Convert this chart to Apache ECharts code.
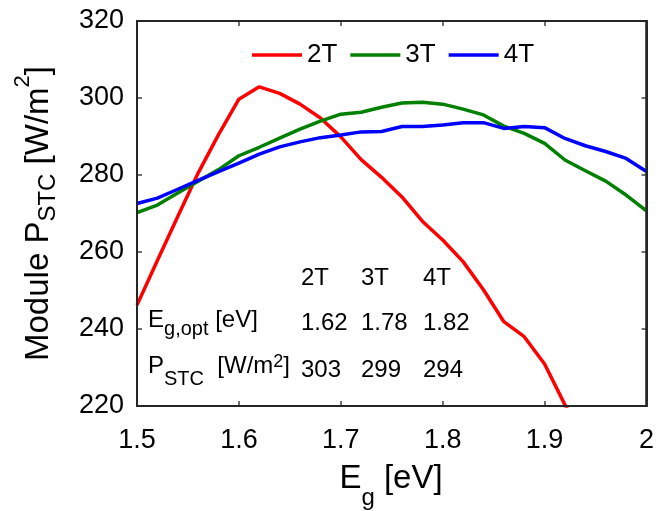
<!DOCTYPE html>
<html>
<head>
<meta charset="utf-8">
<script src="https://cdn.jsdelivr.net/npm/echarts@6/dist/echarts.min.js"></script>
<style>
html,body{margin:0;padding:0;background:#fff;}
#c{width:657px;height:511px;}
</style>
</head>
<body>
<div id="c"></div>
<script>
// ---- data ----
var eg = [1.50,1.52,1.54,1.56,1.58,1.60,1.62,1.64,1.66,1.68,1.70,1.72,1.74,1.76,1.78,1.80,1.82,1.84,1.86,1.88,1.90,1.92,1.94,1.96,1.98,2.00];
var p2T = [246.2,257.8,269.2,280.5,290.5,299.7,302.9,301.2,298.4,294.8,289.9,284.0,279.4,274.3,268.0,263.1,257.5,250.2,241.9,238.0,230.9,220.3,211.0,null,null,null];
var p3T = [270.2,272.2,275.3,278.4,281.4,285.0,287.2,289.6,291.9,294.0,295.8,296.3,297.6,298.7,298.9,298.4,297.1,295.6,292.7,290.8,288.2,283.9,281.1,278.4,274.8,270.7];
var p4T = [272.6,274.0,276.3,278.6,280.9,283.1,285.4,287.3,288.6,289.7,290.4,291.2,291.3,292.6,292.6,293.0,293.6,293.6,292.1,292.6,292.3,289.5,287.6,286.1,284.3,280.9];
var seriesNames = ['2T','3T','4T'];
var seriesColors = ['#ff0000','#008000','#0000ff'];
var xTicks = [1.5,1.6,1.7,1.8,1.9,2.0];
var yTicks = [220,240,260,280,300,320];
var tableHeader = ['2T','3T','4T'];
var tableEgOpt = ['1.62','1.78','1.82'];
var tablePstc = ['303','299','294'];

function pairs(ys){ return eg.map(function(x,i){ return [x, ys[i]]; }); }

var FONT = '"Liberation Sans", Arial, Helvetica, sans-serif';
var frameColor = '#262626';

var chart = echarts.init(document.getElementById('c'), null, {renderer:'canvas'});

function axisBase(extra){
  var o = {
    type:'value', show:true,
    axisLine:{show:true,onZero:false,lineStyle:{color:frameColor,width:2}},
    axisTick:{show:true,inside:true,length:5,lineStyle:{color:'#444',width:1.5}},
    splitLine:{show:false}
  };
  for (var k in extra) o[k] = extra[k];
  return o;
}
var xAxes = [
  axisBase({min:xTicks[0], max:xTicks[xTicks.length-1], interval:0.1, position:'bottom',
    axisLabel:{color:'#000',fontSize:27,fontFamily:FONT,margin:21,
      formatter:function(v){ return String(Number(v.toFixed(1))); }}}),
  axisBase({min:xTicks[0], max:xTicks[xTicks.length-1], interval:0.1, position:'top',
    axisLabel:{show:false}})
];
var yAxes = [
  axisBase({min:yTicks[0], max:yTicks[yTicks.length-1], interval:20, position:'left',
    axisLabel:{color:'#000',fontSize:27,fontFamily:FONT,margin:13}}),
  axisBase({min:yTicks[0], max:yTicks[yTicks.length-1], interval:20, position:'right',
    axisLabel:{show:false}})
];

var dataSets = [p2T,p3T,p4T];
var series = dataSets.map(function(d,i){
  return {
    name:seriesNames[i], type:'line', xAxisIndex:0, yAxisIndex:0,
    data:pairs(d), showSymbol:false, symbol:'none', clip:true, connectNulls:false,
    lineStyle:{color:seriesColors[i],width:3.5}, itemStyle:{color:seriesColors[i]},
    animation:false, z:3
  };
});
// invisible copy bound to the mirror axes so they get an extent
series.push({name:'_mirror', type:'line', xAxisIndex:1, yAxisIndex:1, data:pairs(p3T),
  showSymbol:false, symbol:'none', lineStyle:{opacity:0}, silent:true, animation:false});

chart.setOption({
  animation:false,
  backgroundColor:'#fff',
  grid:{left:137,right:10,top:21,bottom:105,containLabel:false,
        show:true,borderColor:frameColor,borderWidth:2,backgroundColor:'rgba(0,0,0,0)'},
  legend:{
    data:seriesNames, left:252, top:42, padding:0, icon:'rect',
    itemWidth:50, itemHeight:3.5, itemGap:13,
    textStyle:{fontSize:26,fontFamily:FONT,color:'#000'}
  },
  xAxis:xAxes,
  yAxis:yAxes,
  series:series
});

// ---- frame drawn as a polyline too (positions from the axes) ----
var graphics = [];
function px(x,y){ return chart.convertToPixel({gridIndex:0},[x,y]); }
var tl = px(xTicks[0], yTicks[yTicks.length-1]);
var br = px(xTicks[xTicks.length-1], yTicks[0]);
graphics.push({type:'polyline', z:50, silent:true,
  shape:{points:[[tl[0],tl[1]],[br[0],tl[1]],[br[0],br[1]],[tl[0],br[1]],[tl[0],tl[1]]]},
  style:{stroke:frameColor, lineWidth:2, fill:null}});

function plainText(x, y, s){
  graphics.push({type:'text', x:x, y:y, z:10,
    style:{text:s, fill:'#000', font:'24px '+FONT, align:'left', verticalAlign:'middle'}});
}
var colX = [301, 361, 423];
tableHeader.forEach(function(s,i){ plainText(colX[i], 278, s); });
tableEgOpt.forEach(function(s,i){ plainText(colX[i], 323, s); });
tablePstc.forEach(function(s,i){ plainText(colX[i], 370, s); });

graphics.push({type:'text', x:148, y:320, z:10,
  style:{text:'{m|E}{sub|g,opt}{m| [eV]}', align:'left', verticalAlign:'middle',
    rich:{m:{fontSize:24,fontFamily:FONT,fill:'#000'},
          sub:{fontSize:20,fontFamily:FONT,fill:'#000',padding:[18,0,0,0]}}}});
graphics.push({type:'text', x:148, y:366, z:10,
  style:{text:'{m|P}{sub|STC}{m|  [W/m}{sup|2}{m|]}', align:'left', verticalAlign:'middle',
    rich:{m:{fontSize:24,fontFamily:FONT,fill:'#000'},
          sub:{fontSize:20,fontFamily:FONT,fill:'#000',padding:[26,0,0,0]},
          sup:{fontSize:18,fontFamily:FONT,fill:'#000',padding:[0,0,8,0]}}}});

// axis titles
graphics.push({type:'text', x:391, y:479, z:10,
  style:{text:'{m|E}{sub|g}{m| [eV]}', align:'center', verticalAlign:'middle',
    rich:{m:{fontSize:33,fontFamily:FONT,fill:'#000'},
          sub:{fontSize:24,fontFamily:FONT,fill:'#000',padding:[38,0,0,0]}}}});
graphics.push({type:'text', x:39, y:213.5, rotation:Math.PI/2, z:10,
  style:{text:'{m|Module P}{sub|STC}{m| [W/m}{sup|2}{m|]}', align:'center', verticalAlign:'middle',
    rich:{m:{fontSize:33,fontFamily:FONT,fill:'#000'},
          sub:{fontSize:24,fontFamily:FONT,fill:'#000',padding:[18,0,0,0]},
          sup:{fontSize:22,fontFamily:FONT,fill:'#000',padding:[0,0,32,0]}}}});

chart.setOption({graphic:graphics});
</script>
</body>
</html>
